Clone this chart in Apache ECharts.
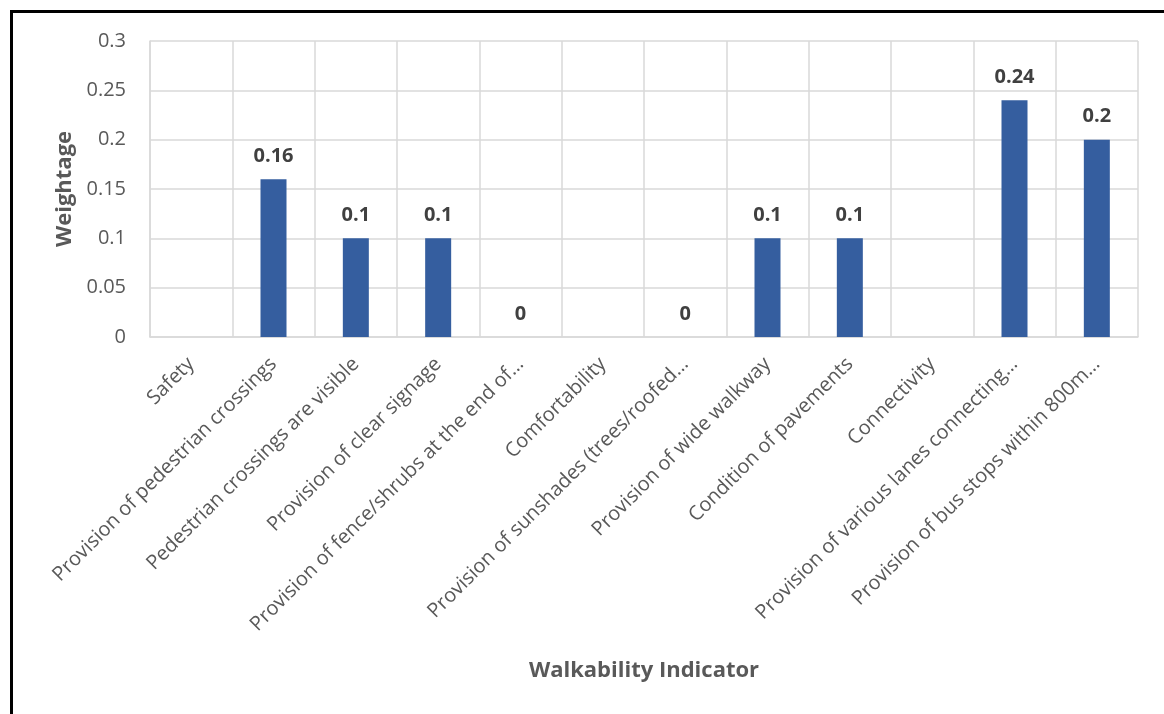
<!DOCTYPE html>
<html>
<head>
<meta charset="utf-8">
<script src="https://cdn.jsdelivr.net/npm/echarts@6/dist/echarts.min.js"></script>
<style>
  html, body { margin: 0; padding: 0; background: #fff; }
  #chart { width: 1164px; height: 714px; }
</style>
</head>
<body>
<div id="chart"></div>
<script>
// Walkability indicators; group headings (Safety, Comfortability, Connectivity) carry no weight
const categories = [
  'Safety',
  'Provision of pedestrian crossings',
  'Pedestrian crossings are visible',
  'Provision of clear signage',
  'Provision of fence/shrubs at the end of\u2026',
  'Comfortability',
  'Provision of sunshades (trees/roofed\u2026',
  'Provision of wide walkway',
  'Condition of pavements',
  'Connectivity',
  'Provision of various lanes connecting\u2026',
  'Provision of bus stops within 800m\u2026'
];
const weightage = [null, 0.16, 0.1, 0.1, 0, null, 0, 0.1, 0.1, null, 0.24, 0.2];
const yTicks = { min: 0, max: 0.3, interval: 0.05 };

const FONT = '"Open Sans", "Liberation Sans", sans-serif';
const GRID = '#d9d9d9';
const TEXT = '#595959';

const chart = echarts.init(document.getElementById('chart'), null, { renderer: 'canvas' });
chart.setOption({
  backgroundColor: '#ffffff',
  animation: false,
  graphic: [{
    type: 'rect',
    shape: { x: 11.5, y: 11.5, width: 1300, height: 800 },
    style: { fill: 'none', stroke: '#000', lineWidth: 3 },
    silent: true
  }],
  grid: { left: 150, right: 26, top: 41, bottom: 377, containLabel: false },
  xAxis: {
    type: 'category',
    data: categories,
    boundaryGap: true,
    name: 'Walkability Indicator',
    nameLocation: 'middle',
    nameGap: 323,
    nameTextStyle: { fontFamily: FONT, fontSize: 22, fontWeight: 'bold', color: TEXT },
    axisLine: { show: true, lineStyle: { color: GRID, width: 1.5 } },
    axisTick: { show: false },
    splitLine: { show: true, lineStyle: { color: GRID, width: 1.5 } },
    axisLabel: {
      interval: 0,
      rotate: 45,
      margin: 24,
      fontFamily: FONT,
      fontSize: 20,
      color: TEXT
    }
  },
  yAxis: {
    type: 'value',
    min: yTicks.min,
    max: yTicks.max,
    interval: yTicks.interval,
    name: 'Weightage',
    nameLocation: 'middle',
    nameGap: 74,
    nameRotate: 90,
    nameTextStyle: { fontFamily: FONT, fontSize: 22, fontWeight: 'bold', color: TEXT },
    axisLine: { show: true, lineStyle: { color: GRID, width: 1.5 } },
    axisTick: { show: false },
    splitLine: { show: true, lineStyle: { color: GRID, width: 1.5 } },
    axisLabel: {
      margin: 24,
      fontFamily: FONT,
      fontSize: 20,
      color: TEXT
    }
  },
  series: [{
    type: 'bar',
    data: weightage,
    barWidth: 26,
    itemStyle: { color: '#355e9f' },
    label: {
      show: true,
      position: 'top',
      distance: 13,
      fontFamily: FONT,
      fontSize: 20,
      fontWeight: 'bold',
      color: '#404040'
    }
  }]
});
</script>
</body>
</html>
